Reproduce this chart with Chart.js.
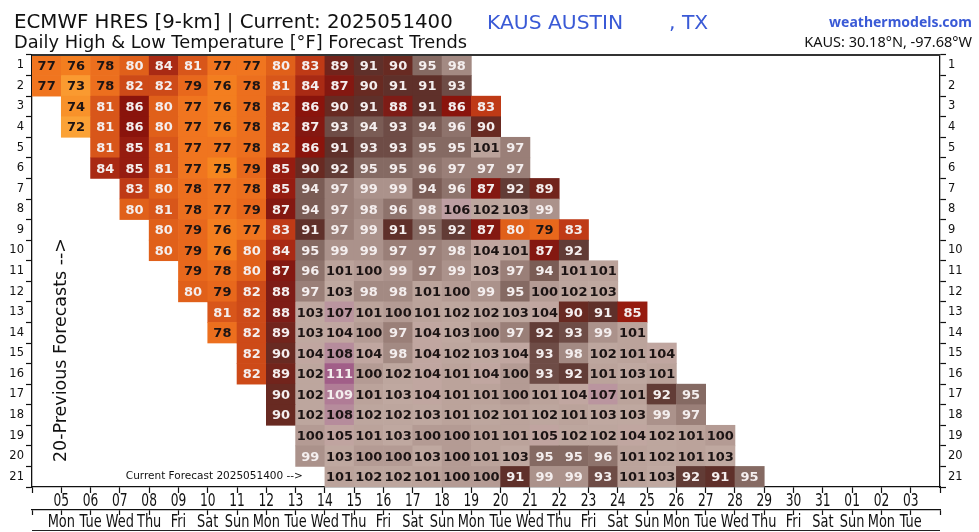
<!DOCTYPE html>
<html><head><meta charset="utf-8">
<script src="https://cdn.jsdelivr.net/npm/chart.js@4.4.1/dist/chart.umd.min.js"></script>
<style>
html,body{margin:0;padding:0;background:#fff;}
#wrap{position:relative;width:979px;height:532px;overflow:hidden;background:#fff;}
canvas{position:absolute;left:0;top:0;}
.t{position:absolute;white-space:pre;font-family:'DejaVu Sans',sans-serif;line-height:1;}
</style></head><body>
<div id="wrap">
<canvas id="c" width="979" height="532" style="width:979px;height:532px"></canvas>
<div class="t" style="left:14px;top:12px;font-size:19.8px;color:#111">ECMWF HRES [9-km] | Current: 2025051400</div>
<div class="t" style="left:487px;top:12px;font-size:20.3px;color:#3a5ad6">KAUS AUSTIN</div>
<div class="t" style="left:669px;top:12px;font-size:20.3px;color:#3a5ad6">, TX</div>
<div class="t" style="left:14px;top:33px;font-size:17.8px;color:#111">Daily High &amp; Low Temperature [°F] Forecast Trends</div>
<div class="t" style="right:7px;top:15px;font-size:14px;font-weight:bold;color:#3a5ad6;font-family:'Noto Sans',sans-serif">weathermodels.com</div>
<div class="t" style="right:7px;top:34px;font-size:14.5px;color:#111;font-family:'Noto Sans',sans-serif">KAUS: 30.18°N, -97.68°W</div>
</div>
<script>
// ---- data ----
const rowLabels = ['1','2','3','4','5','6','7','8','9','10','11','12','13','14','15','16','17','18','19','20','21'];
// first valid day (May day-of-month, 32 = Jun 01) of each forecast row
const firstDay = [4,4,5,5,6,6,7,7,8,8,9,9,10,10,11,11,12,12,13,13,14];
const fc01 = [77,76,78,80,84,81,77,77,80,83,89,91,90,95,98];
const fc02 = [77,73,78,82,82,79,76,78,81,84,87,90,91,91,93];
const fc03 = [74,81,86,80,77,76,78,82,86,90,91,88,91,86,83];
const fc04 = [72,81,86,80,77,76,78,82,87,93,94,93,94,96,90];
const fc05 = [81,85,81,77,77,78,82,86,91,93,93,95,95,101,97];
const fc06 = [84,85,81,77,75,79,85,90,92,95,95,96,97,97,97];
const fc07 = [83,80,78,77,78,85,94,97,99,99,94,96,87,92,89];
const fc08 = [80,81,78,77,79,87,94,97,98,96,98,106,102,103,99];
const fc09 = [80,79,76,77,83,91,97,99,91,95,92,87,80,79,83];
const fc10 = [80,79,76,80,84,95,99,99,97,97,98,104,101,87,92];
const fc11 = [79,78,80,87,96,101,100,99,97,99,103,97,94,101,101];
const fc12 = [80,79,82,88,97,103,98,98,101,100,99,95,100,102,103];
const fc13 = [81,82,88,103,107,101,100,101,102,102,103,104,90,91,85];
const fc14 = [78,82,89,103,104,100,97,104,103,100,97,92,93,99,101];
const fc15 = [82,90,104,108,104,98,104,102,103,104,93,98,102,101,104];
const fc16 = [82,89,102,111,100,102,104,101,104,100,93,92,101,103,101];
const fc17 = [90,102,109,101,103,104,101,101,100,101,104,107,101,92,95];
const fc18 = [90,102,108,102,102,103,101,102,101,102,101,103,103,99,97];
const fc19 = [100,105,101,103,100,100,101,101,105,102,102,104,102,101,100];
const fc20 = [99,103,100,100,103,100,101,103,95,95,96,101,102,101,103];
const fc21 = [101,102,102,101,100,100,91,99,99,93,101,103,92,91,95];
const dateLabels = ['05','06','07','08','09','10','11','12','13','14','15','16','17','18','19','20','21','22','23','24','25','26','27','28','29','30','31','01','02','03'];
const dayNames = ['Mon','Tue','Wed','Thu','Fri','Sat','Sun','Mon','Tue','Wed','Thu','Fri','Sat','Sun','Mon','Tue','Wed','Thu','Fri','Sat','Sun','Mon','Tue','Wed','Thu','Fri','Sat','Sun','Mon','Tue'];
const firstLabelDay = 5;

// ---- colours ----
const colorStops = [
 [72,'#fba236'],[74,'#f8922a'],[75,'#f6861f'],[77,'#f0751f'],[79,'#e8681c'],[80,'#e0601a'],
 [81,'#d8561a'],[82,'#cd4a18'],[83,'#bf3a16'],[84,'#a92a14'],[85,'#961c10'],[86,'#8a140c'],
 [88,'#7e1c16'],[89,'#72241c'],[90,'#682a22'],[91,'#5f302a'],[92,'#623c36'],[93,'#6e4c46'],
 [94,'#7a5c55'],[95,'#856a63'],[96,'#8e736c'],[97,'#9a7f78'],[98,'#a38a83'],[99,'#ab928b'],
 [100,'#b49b94'],[101,'#bba39b'],[103,'#bfa8a0'],[105,'#c0a4a0'],[106,'#bd9ea2'],[108,'#b68c9c'],
 [109,'#b07c96'],[111,'#a15e88']
];
function hex(c){return [1,3,5].map(i=>parseInt(c.substr(i,2),16));}
function tempColor(v){
  if (v <= colorStops[0][0]) return colorStops[0][1];
  for (let i=1;i<colorStops.length;i++){
    if (v <= colorStops[i][0]){
      const [a,ca]=colorStops[i-1],[b,cb]=colorStops[i];
      const t=(v-a)/(b-a), A=hex(ca), B=hex(cb);
      return 'rgb('+A.map((x,k)=>Math.round(x+(B[k]-x)*t)).join(',')+')';
    }
  }
  return colorStops[colorStops.length-1][1];
}
function textColor(v){ return ((v>=80 && v<=99) || v>=109) ? '#f4eeee' : '#1c1414'; }

const forecasts = [fc01,fc02,fc03,fc04,fc05,fc06,fc07,fc08,fc09,fc10,fc11,fc12,fc13,fc14,fc15,fc16,fc17,fc18,fc19,fc20,fc21];
const cells = [];
forecasts.forEach((vals,r)=>vals.forEach((v,i)=>{
  cells.push({x:[firstDay[r]+i, firstDay[r]+i+1], y:rowLabels[r], v:v});
}));

function condensedText(ctx, txt, x, y, sx){
  ctx.save(); ctx.translate(x, y); ctx.scale(sx, 1); ctx.fillText(txt, 0, 0); ctx.restore();
}

const cellText = {
  id:'cellText',
  afterDatasetsDraw(chart){
    const ctx = chart.ctx, meta = chart.getDatasetMeta(0), data = chart.data.datasets[0].data;
    ctx.save();
    ctx.font = 'bold 13px "DejaVu Sans"';
    ctx.textAlign = 'center'; ctx.textBaseline = 'middle';
    meta.data.forEach((el,i)=>{
      const p = el.getProps(['x','y','base'], true);
      ctx.fillStyle = textColor(data[i].v);
      ctx.fillText(String(data[i].v), (p.x+p.base)/2, p.y+1);
    });
    const ca = chart.chartArea, xs = chart.scales.x, ys = chart.scales.y;
    ctx.save();
    ctx.translate(ca.left+29, ca.top + ca.height*0.683);
    ctx.rotate(-Math.PI/2);
    ctx.font = '17.5px "DejaVu Sans"'; ctx.fillStyle = '#111';
    ctx.fillText('20-Previous Forecasts -->', 0, 0);
    ctx.restore();
    ctx.font = '10.5px "DejaVu Sans"'; ctx.fillStyle = '#111'; ctx.textAlign = 'right';
    ctx.fillText('Current Forecast 2025051400 -->', xs.getPixelForValue(firstDay[20]) - 22, ys.getPixelForValue(20));
    ctx.restore();
  },
  afterDraw(chart){
    const ctx = chart.ctx, ca = chart.chartArea;
    ctx.save();
    ctx.strokeStyle = '#333'; ctx.lineWidth = 2;
    ctx.beginPath(); ctx.moveTo(ca.left, ca.top); ctx.lineTo(ca.right, ca.top); ctx.stroke();
    ctx.strokeStyle = '#222'; ctx.lineWidth = 1.2;
    ctx.beginPath(); ctx.moveTo(ca.left, chart.height-1.5); ctx.lineTo(ca.right, chart.height-1.5); ctx.stroke();
    // condensed date / weekday tick labels placed with the x scale
    const xs = chart.scales.x, x2 = chart.scales.x2;
    ctx.fillStyle = '#111'; ctx.textAlign = 'center'; ctx.textBaseline = 'middle';
    ctx.font = '18px "DejaVu Sans"';
    dateLabels.forEach((lab,i)=>condensedText(ctx, lab, xs.getPixelForValue(firstLabelDay+i), xs.top+14, 0.68));
    dayNames.forEach((lab,i)=>condensedText(ctx, lab, x2.getPixelForValue(firstLabelDay+i), x2.top+12.5, 0.72));
    ctx.restore();
  }
};

const axisCommon = {
  grid:{drawOnChartArea:false, color:'#111', tickColor:'#111', tickLength:6, tickWidth:1.2},
  border:{color:'#111', width:1.3}
};
new Chart(document.getElementById('c'), {
  type:'bar',
  data:{labels:rowLabels, datasets:[{
    data:cells, xAxisID:'x', yAxisID:'y',
    backgroundColor: c => tempColor(c.raw.v),
    borderWidth:0, barPercentage:1, categoryPercentage:1
  }]},
  options:{
    indexAxis:'y', responsive:false, animation:false, devicePixelRatio:1,
    layout:{padding:{top:55,left:0,right:0,bottom:0}},
    plugins:{legend:{display:false}, tooltip:{enabled:false}},
    scales:{
      x:{type:'linear', position:'bottom', weight:0, min:4, max:35,
         ticks:{stepSize:1, autoSkip:false, maxRotation:0, callback:()=>''},
         ...axisCommon, afterFit:s=>{s.height=23;}},
      x2:{type:'linear', position:'bottom', weight:1, min:4, max:35,
         ticks:{stepSize:1, autoSkip:false, maxRotation:0, callback:()=>''},
         grid:{drawOnChartArea:false, color:'#111', tickColor:'#111', tickLength:5, tickWidth:1.2},
         border:{color:'#111', width:1.3}, afterFit:s=>{s.height=22;}},
      y:{type:'category', position:'left', labels:rowLabels,
         ticks:{color:'#111', padding:2, font:{family:'"DejaVu Sans"', size:11.5}},
         ...axisCommon, afterFit:s=>{s.width=32;}},
      y2:{type:'category', position:'right', labels:rowLabels,
         ticks:{color:'#111', padding:2, font:{family:'"DejaVu Sans"', size:11.5}},
         ...axisCommon, afterFit:s=>{s.width=39;}}
    }
  },
  plugins:[cellText]
});
</script>
</body></html>
